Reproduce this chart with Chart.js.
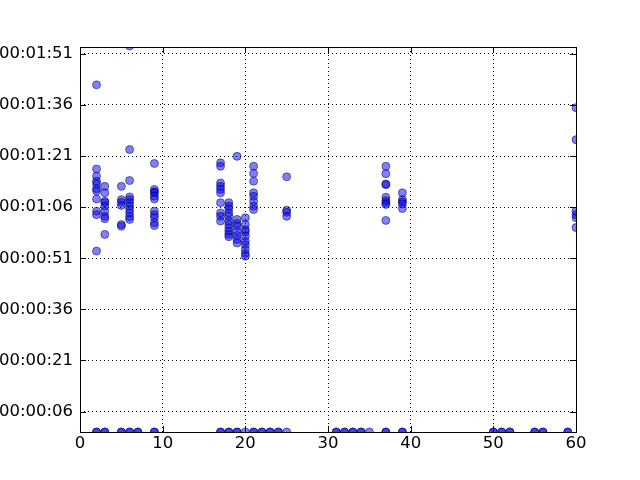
<!DOCTYPE html>
<html>
<head>
<meta charset="utf-8">
<script src="https://cdn.jsdelivr.net/npm/chart.js@4"></script>
<style>
  html, body { margin: 0; padding: 0; background: #fff; }
</style>
</head>
<body>
<canvas id="scatterChart" width="640" height="480"></canvas>
<script>
// x positions of the columns that have non-zero durations
const columnX = [2, 3, 5, 6, 9, 17, 18, 19, 20, 21, 25, 37, 39, 60];

// durations in seconds, one list per column above
const columnSeconds = [
  [101.9, 77.2, 75.1, 73.6, 72.8, 71.4, 70.7, 68.4, 64.8, 63.8, 53.1],
  [72.1, 70.2, 67.7, 67.3, 66.3, 64.8, 63.3, 62.6, 58.0],
  [72.1, 68.2, 67.4, 66.5, 60.9, 60.4],
  [113.3, 82.9, 73.8, 69.0, 68.2, 67.3, 66.3, 65.3, 64.3, 63.2, 62.4],
  [78.8, 71.2, 70.5, 70.2, 69.2, 68.4, 64.8, 63.8, 62.9, 61.4, 60.6],
  [79.0, 78.0, 73.1, 72.1, 71.2, 70.2, 67.3, 64.3, 63.3, 61.9],
  [67.3, 66.3, 65.5, 64.3, 63.3, 61.9, 60.9, 59.9, 58.9, 58.0, 57.3],
  [80.9, 62.4, 61.2, 60.4, 58.9, 57.7, 56.5, 55.5],
  [62.9, 60.9, 59.4, 58.7, 57.5, 56.0, 55.0, 53.6, 52.4, 51.6],
  [78.0, 75.9, 73.6, 70.2, 69.2, 67.7, 66.3, 65.3],
  [74.9, 65.1, 64.5, 63.3],
  [78.0, 75.8, 72.8, 72.6, 68.9, 67.9, 67.3, 66.8, 62.1],
  [70.2, 68.2, 67.6, 67.0, 65.6],
  [95.2, 85.8, 64.8, 63.8, 62.9, 60.0]
];

// columns with zero duration (repeats = overlapping points)
const zeroX = [2, 2, 3, 3, 5, 5, 6, 6, 7, 7, 9, 9, 17, 17, 18, 18, 19, 19, 20,
  21, 21, 22, 22, 23, 23, 24, 24, 25, 31, 31, 32, 32, 33, 33, 34, 34, 35,
  37, 37, 39, 39, 50, 50, 51, 51, 52, 52, 55, 55, 56, 56, 59, 59];

// y tick values, in seconds
const yTickSeconds = [6, 21, 36, 51, 66, 81, 96, 111];
const xTickValues = [0, 10, 20, 30, 40, 50, 60];

const points = [];
columnX.forEach((x, i) => columnSeconds[i].forEach(s => points.push({ x: x, y: s })));
zeroX.forEach(x => points.push({ x: x, y: 0 }));

function hms(v) {
  const h = Math.floor(v / 3600);
  const m = Math.floor((v % 3600) / 60);
  const s = Math.round(v % 60);
  const p = n => String(n).padStart(2, '0');
  return p(h) + ':' + p(m) + ':' + p(s);
}

// frame + inward ticks on all four sides, like matplotlib classic
const framePlugin = {
  id: 'frame',
  afterDraw(chart) {
    const ctx = chart.ctx;
    const a = chart.chartArea;
    const xs = chart.scales.x, ys = chart.scales.y;
    const len = 6;
    ctx.save();
    ctx.strokeStyle = '#000';
    ctx.lineWidth = 1;
    ctx.beginPath();
    xs.ticks.forEach((t, i) => {
      const px = Math.round(xs.getPixelForTick(i)) + 0.5;
      ctx.moveTo(px, a.bottom); ctx.lineTo(px, a.bottom - len);
      ctx.moveTo(px, a.top); ctx.lineTo(px, a.top + len);
    });
    ys.ticks.forEach((t, i) => {
      const py = Math.round(ys.getPixelForTick(i)) + 0.5;
      ctx.moveTo(a.left, py); ctx.lineTo(a.left + len, py);
      ctx.moveTo(a.right, py); ctx.lineTo(a.right - len, py);
    });
    ctx.stroke();
    ctx.strokeRect(Math.round(a.left) + 0.5, Math.round(a.top) + 0.5,
      Math.round(a.right - a.left), Math.round(a.bottom - a.top));
    ctx.restore();
  }
};

Chart.defaults.font.family = '"DejaVu Sans", sans-serif';
Chart.defaults.font.size = 16.5;
Chart.defaults.color = '#000';

new Chart(document.getElementById('scatterChart'), {
  type: 'scatter',
  data: {
    datasets: [{
      data: points,
      backgroundColor: 'rgba(0, 0, 255, 0.5)',
      borderColor: 'rgba(0, 0, 60, 0.5)',
      borderWidth: 1,
      pointRadius: 4,
      clip: 0
    }]
  },
  options: {
    responsive: false,
    animation: false,
    devicePixelRatio: 1,
    layout: { padding: { top: 47, right: 64, left: 0, bottom: 0 } },
    plugins: {
      legend: { display: false },
      tooltip: { enabled: false }
    },
    scales: {
      x: {
        type: 'linear',
        min: 0,
        max: 60,
        afterBuildTicks: s => { s.ticks = xTickValues.map(v => ({ value: v })); },
        afterFit: s => { s.height = 48; },
        ticks: { padding: 2 },
        grid: { color: '#000', lineWidth: 1, drawTicks: false },
        border: { display: false, dash: [1, 3] }
      },
      y: {
        type: 'linear',
        min: 0,
        max: 113,
        afterBuildTicks: s => { s.ticks = yTickSeconds.map(v => ({ value: v })); },
        afterFit: s => { s.width = 80; },
        ticks: { padding: 7, callback: v => hms(v) },
        grid: { color: '#000', lineWidth: 1, drawTicks: false },
        border: { display: false, dash: [1, 3] }
      }
    }
  },
  plugins: [framePlugin]
});
</script>
</body>
</html>
